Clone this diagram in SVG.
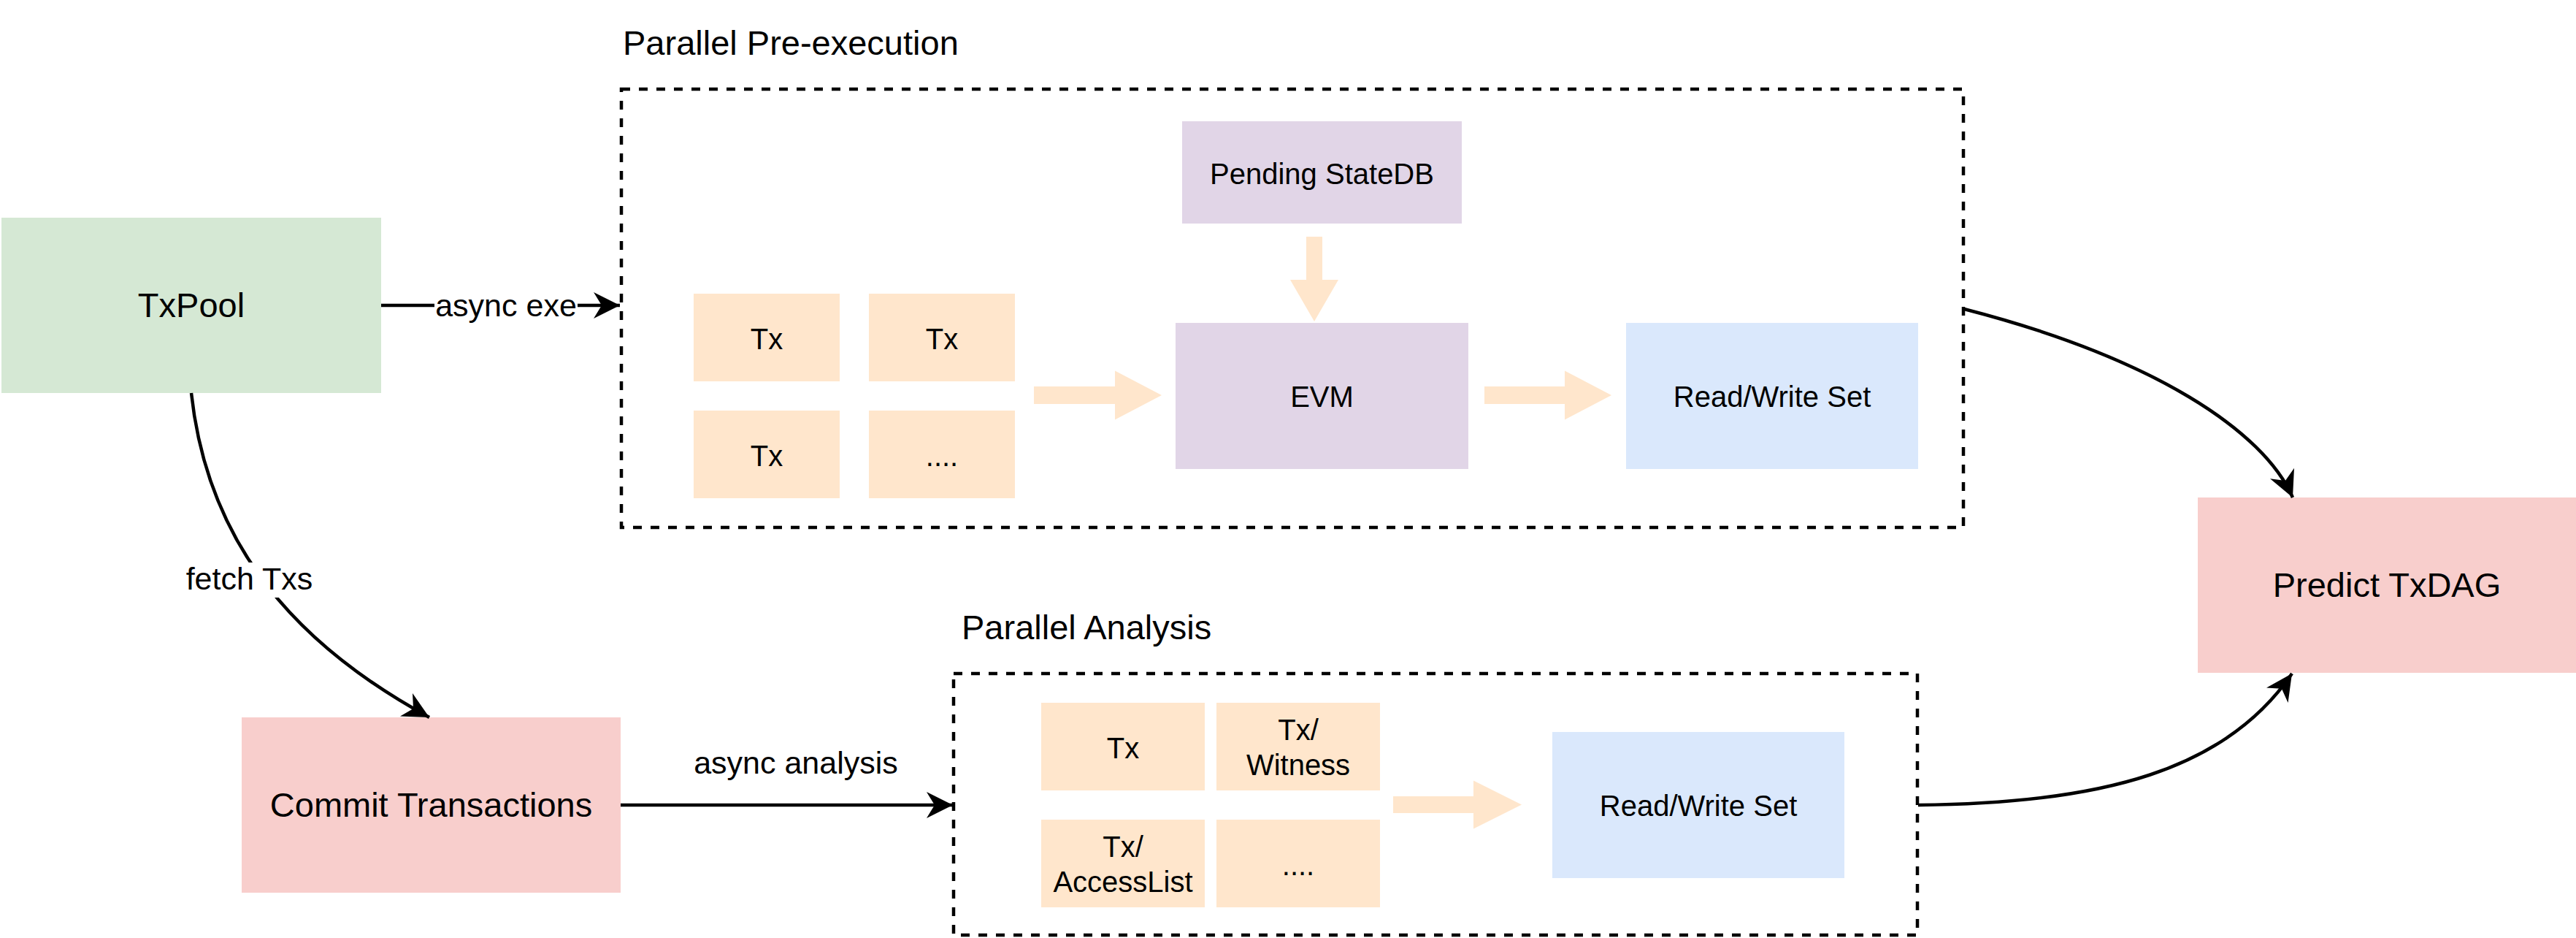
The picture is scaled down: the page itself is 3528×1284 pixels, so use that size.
<svg xmlns="http://www.w3.org/2000/svg" width="3528" height="1284" viewBox="0 0 3528 1284">
  <style>
    text { font-family: "Liberation Sans", Arial, Helvetica, sans-serif; fill: #000; text-anchor: middle; }
    .big { font-size: 47px; }
    .mid { font-size: 40px; }
    .edge { font-size: 43px; }
    .title { font-size: 47px; text-anchor: start; }
    .conn { fill: none; stroke: #000; stroke-width: 4.5; stroke-linecap: butt; }
    .grp { fill: none; stroke: #000; stroke-width: 4.5; stroke-dasharray: 12 12; }
    .tx { fill: #ffe6cc; }
    .fat { fill: #ffe6cc; }
    .purple { fill: #e1d5e7; }
    .blue { fill: #dae8fc; }
    .red { fill: #f8cecc; }
    .green { fill: #d5e8d4; }
  </style>
  <defs>
    <marker id="arr" markerUnits="userSpaceOnUse" viewBox="0 0 36 36" markerWidth="36" markerHeight="36" refX="36" refY="18" orient="auto">
      <path d="M0,0 L36,18 L0,36 L11,18 Z" fill="#000"/>
    </marker>
  </defs>
  <rect width="3528" height="1284" fill="#fff"/>

  <!-- Groups (dashed containers) -->
  <g id="pre-execution">
    <rect class="grp" x="851" y="122" width="1838" height="600"/>
    <text class="title" x="853" y="75">Parallel Pre-execution</text>
  </g>
  <g id="analysis">
    <rect class="grp" x="1306" y="922" width="1320" height="358"/>
    <text class="title" x="1317" y="875">Parallel Analysis</text>
  </g>

  <!-- Nodes -->
  <g id="txpool">
    <rect class="green" x="2" y="298" width="520" height="240"/>
    <text class="big" x="262" y="434">TxPool</text>
  </g>
  <g id="commit">
    <rect class="red" x="331" y="982" width="519" height="240"/>
    <text class="big" x="590.5" y="1118">Commit Transactions</text>
  </g>
  <g id="predict">
    <rect class="red" x="3010" y="681" width="520" height="240"/>
    <text class="big" x="3269" y="817">Predict TxDAG</text>
  </g>

  <g id="pre-tx1">
    <rect class="tx" x="950" y="402" width="200" height="120"/>
    <text class="mid" x="1050" y="478">Tx</text>
  </g>
  <g id="pre-tx2">
    <rect class="tx" x="1190" y="402" width="200" height="120"/>
    <text class="mid" x="1290" y="478">Tx</text>
  </g>
  <g id="pre-tx3">
    <rect class="tx" x="950" y="562" width="200" height="120"/>
    <text class="mid" x="1050" y="638">Tx</text>
  </g>
  <g id="pre-tx4">
    <rect class="tx" x="1190" y="562" width="200" height="120"/>
    <text class="mid" x="1290" y="638">....</text>
  </g>
  <g id="pending-statedb">
    <rect class="purple" x="1619" y="166" width="383" height="140"/>
    <text class="mid" x="1810.5" y="252">Pending StateDB</text>
  </g>
  <g id="evm">
    <rect class="purple" x="1610" y="442" width="401" height="200"/>
    <text class="mid" x="1810.5" y="557">EVM</text>
  </g>
  <g id="rw-set-pre">
    <rect class="blue" x="2227" y="442" width="400" height="200"/>
    <text class="mid" x="2427" y="557">Read/Write Set</text>
  </g>

  <g id="an-tx">
    <rect class="tx" x="1426" y="962" width="224" height="120"/>
    <text class="mid" x="1538" y="1038">Tx</text>
  </g>
  <g id="an-witness">
    <rect class="tx" x="1666" y="962" width="224" height="120"/>
    <text class="mid" x="1778" y="1013">Tx/</text>
    <text class="mid" x="1778" y="1061">Witness</text>
  </g>
  <g id="an-accesslist">
    <rect class="tx" x="1426" y="1122" width="224" height="120"/>
    <text class="mid" x="1538" y="1173">Tx/</text>
    <text class="mid" x="1538" y="1221">AccessList</text>
  </g>
  <g id="an-more">
    <rect class="tx" x="1666" y="1122" width="224" height="120"/>
    <text class="mid" x="1778" y="1198">....</text>
  </g>
  <g id="rw-set-an">
    <rect class="blue" x="2126" y="1002" width="400" height="200"/>
    <text class="mid" x="2326" y="1117">Read/Write Set</text>
  </g>

  <!-- Connectors -->
  <g id="connectors">
    <polygon class="fat" points="1416,529 1527,529 1527,507.5 1591,541 1527,574.5 1527,553 1416,553"/>
    <polygon class="fat" points="2033,529 2143,529 2143,507.5 2207,541 2143,574.5 2143,553 2033,553"/>
    <polygon class="fat" points="1789,324 1811,324 1811,383 1833,383 1800,440 1767,383 1789,383"/>
    <polygon class="fat" points="1908,1090 2018,1090 2018,1068.5 2084,1101.5 2018,1134.5 2018,1113 1908,1113"/>

    <path class="conn" d="M522,418 L849,418" marker-end="url(#arr)"/>
    <rect x="595" y="396" width="196" height="46" fill="#fff"/>
    <text class="edge" x="693" y="433">async exe</text>

    <path class="conn" d="M262,538 C285,750 410,885 588,982" marker-end="url(#arr)"/>
    <rect x="252" y="770" width="180" height="48" fill="#fff"/>
    <text class="edge" x="341.5" y="807">fetch Txs</text>

    <path class="conn" d="M850,1102 L1305,1102" marker-end="url(#arr)"/>
    <text class="edge" x="1090" y="1059">async analysis</text>

    <path class="conn" d="M2690,423 C2950,490 3100,590 3140,681" marker-end="url(#arr)"/>
    <path class="conn" d="M2627,1102 C2880,1100 3049,1054 3139,922" marker-end="url(#arr)"/>
  </g>
</svg>
